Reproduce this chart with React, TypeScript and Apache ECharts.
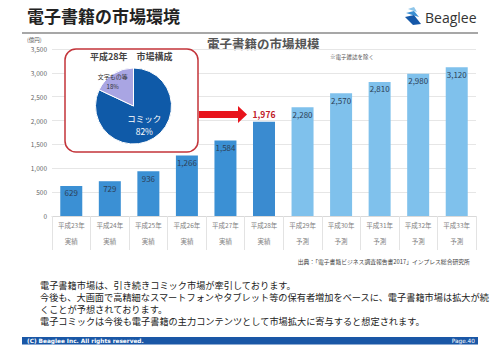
import React, { useEffect, useRef } from "react";
import * as echarts from "echarts";

const years = ["平成23年", "平成24年", "平成25年", "平成26年", "平成27年", "平成28年", "平成29年", "平成30年", "平成31年", "平成32年", "平成33年"];
const kinds = ["実績", "実績", "実績", "実績", "実績", "実績", "予測", "予測", "予測", "予測", "予測"];
const marketSize = [629, 729, 936, 1266, 1584, 1976, 2280, 2570, 2810, 2980, 3120];
const pieNames = ["コミック", "文字もの等"];
const pieValues = [82, 18];
const highlightIndex = 5;
const bodyLines = [
  "電子書籍市場は、引き続きコミック市場が牽引しております。",
  "今後も、大画面で高精細なスマートフォンやタブレット等の保有者増加をベースに、電子書籍市場は拡大が続",
  "くことが予想されております。",
  "電子コミックは今後も電子書籍の主力コンテンツとして市場拡大に寄与すると想定されます。",
];

const FONT = '"Noto Sans CJK JP", "Noto Sans", sans-serif';
const BODY_FONT = '"Liberation Sans", "Noto Sans CJK JP", sans-serif';

export default function App() {
  const ref = useRef<HTMLDivElement>(null);
  useEffect(() => {
    if (!ref.current) return;
    const chart = echarts.init(ref.current, null, { renderer: "svg" });
    const barData = marketSize.map((v, i) => {
      const forecast = kinds[i] === "予測";
      const hl = i === highlightIndex;
      return {
        value: v,
        itemStyle: { color: forecast ? "#7fc1ec" : hl ? "#3a8bd0" : "#3b90d4" },
        label: hl
          ? { position: "top", distance: 3, color: "#c0202a", fontWeight: "bold", fontSize: 8.5 }
          : { position: "insideTop", distance: 3, color: "#2d3f57", fontSize: 8 },
      };
    });
    const pieColors = ["#0f5aa8", "#a9a5e3"];
    const pieData = pieValues.map((v, i) => ({
      name: pieNames[i],
      value: v,
      itemStyle: { color: pieColors[i] },
      label:
        i === 0
          ? { color: "#ffffff", fontSize: 8.5, lineHeight: 13, offset: [-1, 0] }
          : { color: "#333333", fontSize: 6, lineHeight: 10, offset: [-9, -6] },
    }));
    const arrow = [[199, 111], [238, 111], [238, 106], [247, 114.5], [238, 123], [238, 118], [199, 118]];
    const bodyTexts = bodyLines.map((t, i) => ({
      type: "text",
      left: 40,
      top: 281 + i * 12,
      style: { text: t, fontSize: 9.2, fill: "#222222", fontFamily: BODY_FONT },
    }));
    chart.setOption({
      animation: false,
      textStyle: { fontFamily: FONT },
      grid: { left: 52, right: 24, top: 49, bottom: 136 },
      xAxis: {
        type: "category",
        data: years.map((y, i) => y + "\n" + kinds[i]),
        axisLine: { lineStyle: { color: "#d9d9d9" } },
        axisTick: { show: true, length: 34, lineStyle: { color: "#e3e3e3" } },
        axisLabel: { color: "#808080", fontSize: 6.5, lineHeight: 16, margin: 1, interval: 0 },
      },
      yAxis: {
        type: "value",
        min: 0,
        max: 3500,
        interval: 500,
        axisLine: { show: false },
        axisTick: { show: false },
        axisLabel: {
          color: "#666666",
          fontSize: 6.5,
          margin: 5,
          formatter: (v: number) => v.toLocaleString("en-US"),
        },
        splitLine: { lineStyle: { color: "#e6e6e6" } },
      },
      series: [
        {
          type: "bar",
          data: barData,
          barWidth: 22,
          label: { show: true, formatter: (p: any) => Number(p.value).toLocaleString("en-US") },
          z: 2,
        },
        {
          type: "pie",
          center: [133.5, 106],
          radius: 38,
          startAngle: 90,
          clockwise: true,
          data: pieData,
          itemStyle: { borderColor: "#ffffff", borderWidth: 1 },
          label: { show: true, position: "inside", formatter: "{b}\n{d}%", fontFamily: FONT },
          labelLine: { show: false },
          z: 10,
        },
      ],
      graphic: [
        { type: "text", left: 27, top: 7, style: { text: "電子書籍の市場環境", fontSize: 17, fontWeight: "bold", fill: "#222222", fontFamily: FONT } },
        { type: "line", shape: { x1: 22, y1: 33, x2: 478, y2: 33 }, style: { stroke: "#8a8a8a", lineWidth: 1.5 } },
        { type: "polygon", shape: { points: [[408, 9], [414, 7], [417, 12]] }, style: { fill: "#8fc6ea" } },
        { type: "polygon", shape: { points: [[406, 13], [414, 11], [419, 17]] }, style: { fill: "#3a8fd3" } },
        { type: "polygon", shape: { points: [[405, 17], [414, 15], [421, 24], [413, 25]] }, style: { fill: "#1558a8" } },
        { type: "text", left: 425, top: 10, style: { text: "Beaglee", fontSize: 14, fill: "#333333", fontFamily: '"Open Sans", "Noto Sans", sans-serif' } },
        { type: "text", left: 27, top: 37, style: { text: "(億円)", fontSize: 5.5, fill: "#555555", fontFamily: FONT } },
        { type: "text", left: 207, top: 37, style: { text: "電子書籍の市場規模", fontSize: 12.5, fontWeight: "bold", fill: "#555555", fontFamily: FONT } },
        { type: "text", left: 330, top: 54, style: { text: "※電子雑誌を除く", fontSize: 5.5, fill: "#555555", fontFamily: FONT } },
        { type: "rect", shape: { x: 65, y: 49, width: 133, height: 103, r: 11 }, style: { fill: "#ffffff", stroke: "#c3343a", lineWidth: 1.5 }, z: 5 },
        { type: "text", left: 90, top: 52, style: { text: "平成28年　市場構成", fontSize: 9, fontWeight: "bold", fill: "#444444", fontFamily: FONT }, z: 6 },
        { type: "polygon", shape: { points: arrow }, style: { fill: "#e8141c" }, z: 5 },
        { type: "text", right: 30, top: 259, style: { text: "出典：「電子書籍ビジネス調査報告書2017」インプレス総合研究所", fontSize: 5.8, fill: "#444444", fontFamily: FONT } },
        ...bodyTexts,
        { type: "rect", shape: { x: 22, y: 337, width: 456, height: 7.5 }, style: { fill: "#1a57a6" } },
        { type: "text", left: 27, top: 337.5, style: { text: "(C) Beaglee Inc. All rights reserved.", fontSize: 5.8, fontWeight: "bold", fill: "#ffffff", fontFamily: '"DejaVu Sans", sans-serif' } },
        { type: "text", right: 25, top: 337.5, style: { text: "Page.40", fontSize: 5.8, fill: "#ffffff", fontFamily: '"DejaVu Sans", sans-serif' } },
      ],
    });
    return () => chart.dispose();
  }, []);
  return <div ref={ref} style={{ width: 500, height: 352, position: "absolute", left: 0, top: 0, background: "#ffffff" }} />;
}
